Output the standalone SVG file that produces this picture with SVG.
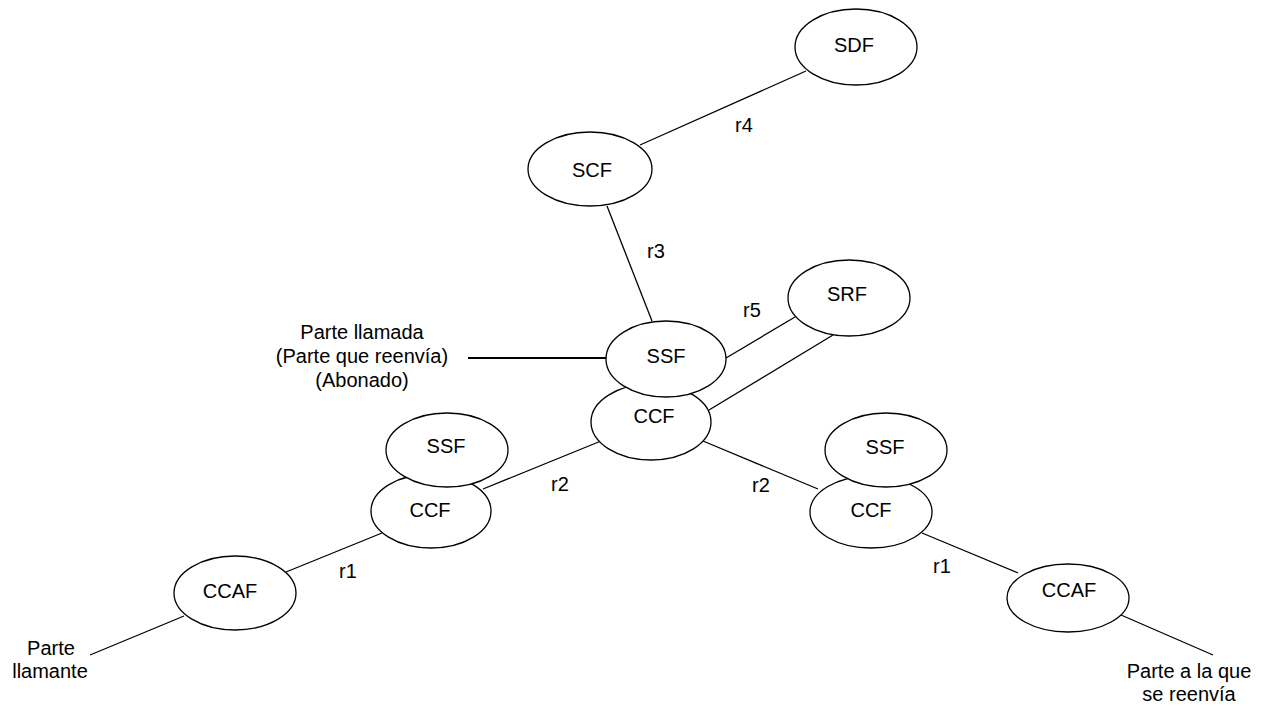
<svg xmlns="http://www.w3.org/2000/svg" width="1266" height="708" viewBox="0 0 1266 708">
<style>
  text { font-family: "Liberation Sans", Arial, sans-serif; font-size: 20px; fill: #000; text-anchor: middle; }
  .node ellipse { fill: #fff; stroke: #000; stroke-width: 1.3; }
  .conn line { stroke: #000; stroke-width: 1.3; fill: none; }
  .conn line.thick { stroke-width: 2.2; }
</style>
<rect width="1266" height="708" fill="#fff"/>
<g id="connectors" class="conn">
  <line x1="640" y1="145" x2="806" y2="71"/>
  <line x1="607" y1="206" x2="652" y2="321"/>
  <line x1="726" y1="358" x2="795" y2="317"/>
  <line x1="709" y1="410" x2="833" y2="335"/>
  <line class="thick" x1="468" y1="358" x2="607" y2="358"/>
  <line x1="483" y1="489" x2="601" y2="441"/>
  <line x1="703" y1="441" x2="818" y2="489"/>
  <line x1="286" y1="572" x2="382" y2="533"/>
  <line x1="90" y1="655" x2="184" y2="616"/>
  <line x1="922" y1="533" x2="1018" y2="573"/>
  <line x1="1121" y1="615" x2="1213" y2="655"/>
  <text x="744" y="132">r4</text>
  <text x="656" y="258">r3</text>
  <text x="752" y="317">r5</text>
  <text x="560" y="491">r2</text>
  <text x="348" y="578">r1</text>
  <text x="761" y="492">r2</text>
  <text x="942" y="573">r1</text>
</g>
<g id="node-sdf" class="node"><ellipse cx="856" cy="47" rx="61" ry="38"/><text x="854" y="52">SDF</text></g>
<g id="node-scf" class="node"><ellipse cx="590" cy="169" rx="62" ry="37"/><text x="592" y="177">SCF</text></g>
<g id="node-srf" class="node"><ellipse cx="849" cy="298" rx="61" ry="38"/><text x="847" y="301">SRF</text></g>
<g id="node-ccf-center" class="node"><ellipse cx="651" cy="422" rx="60" ry="38"/><text x="654" y="423">CCF</text></g>
<g id="node-ssf-center" class="node"><ellipse cx="666" cy="359" rx="60" ry="38"/><text x="666" y="363">SSF</text></g>
<g id="node-ccf-left" class="node"><ellipse cx="431" cy="511" rx="60" ry="37"/><text x="430" y="517">CCF</text></g>
<g id="node-ssf-left" class="node"><ellipse cx="447" cy="450" rx="61" ry="37"/><text x="446" y="453">SSF</text></g>
<g id="node-ccaf-left" class="node"><ellipse cx="235" cy="593" rx="61" ry="37"/><text x="230" y="598">CCAF</text></g>
<g id="node-ccf-right" class="node"><ellipse cx="871" cy="512" rx="61" ry="36"/><text x="871" y="517">CCF</text></g>
<g id="node-ssf-right" class="node"><ellipse cx="886" cy="450" rx="61" ry="37"/><text x="885" y="454">SSF</text></g>
<g id="node-ccaf-right" class="node"><ellipse cx="1068" cy="598" rx="61" ry="34"/><text x="1069" y="597">CCAF</text></g>
<g id="labels">
  <text x="362" y="339">Parte llamada</text>
  <text x="362" y="363">(Parte que reenvía)</text>
  <text x="362" y="387">(Abonado)</text>
  <text x="51" y="655">Parte</text>
  <text x="50" y="678">llamante</text>
  <text x="1189" y="678">Parte a la que</text>
  <text x="1189" y="701">se reenvía</text>
</g>
</svg>
